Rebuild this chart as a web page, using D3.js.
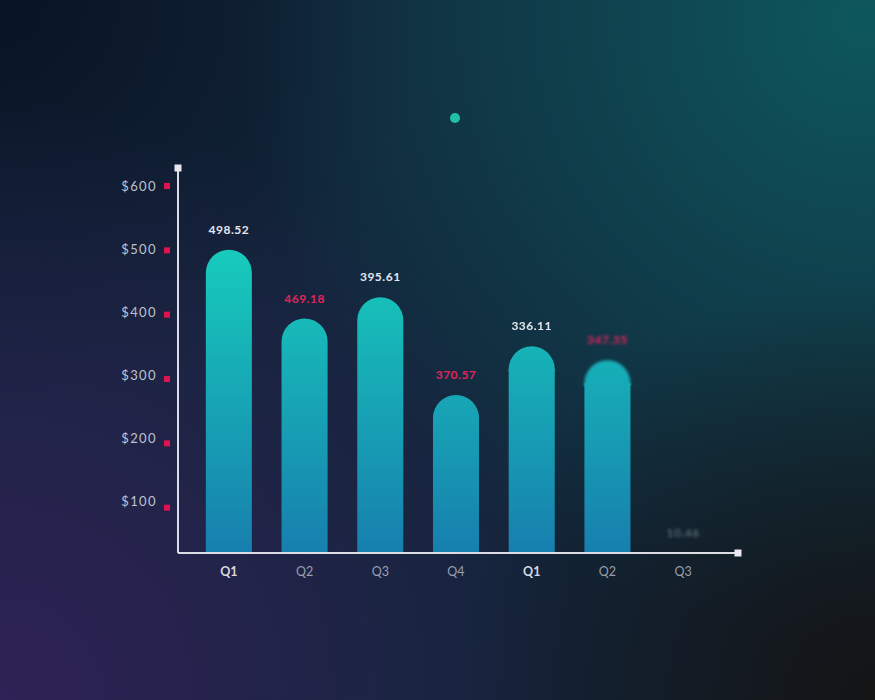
<!DOCTYPE html>
<html><head><meta charset="utf-8">
<script src="https://cdn.jsdelivr.net/npm/d3@7/dist/d3.min.js"></script>
<style>html,body{margin:0;padding:0;background:#0f2233;overflow:hidden}</style>
</head><body>
<svg id="c" width="875" height="700"></svg>
<script>
const categories = ["Q1","Q2","Q3","Q4","Q1","Q2","Q3"];
const barValues = [501, 394, 427, 275, 351, 329, 8];
const labelTexts = ["498.52","469.18","395.61","370.57","336.11","347.35","10.46"];
const labelKinds = ["light","accent","light","accent","light","accent","faded"];
const boldCategory = [true,false,false,false,true,false,false];
const tickValues = [100,200,300,400,500,600];
const topBlur = [0,0,0,0,0.7,1.8,0];
const labelBlur = [0,0,0,0,0.5,1.8,1.6];

const svg = d3.select("#c");
const W = 875, H = 700;
const defs = svg.append("defs");

function radial(id, cx, cy, r, color, op){
  const g = defs.append("radialGradient").attr("id",id).attr("gradientUnits","userSpaceOnUse")
    .attr("cx",cx).attr("cy",cy).attr("r",r);
  g.append("stop").attr("offset","0%").attr("stop-color",color).attr("stop-opacity",op);
  g.append("stop").attr("offset","100%").attr("stop-color",color).attr("stop-opacity",0);
}
radial("bgTeal", 860, 20, 620, "#0d5a5e", 0.95);
radial("bgPurple", 0, 700, 600, "#2f2256", 1);
radial("bgDark", 875, 700, 420, "#141414", 1);
radial("bgTL", 0, 0, 420, "#081222", 0.9);
svg.append("rect").attr("width",W).attr("height",H).attr("fill","#12253a");
["bgTL","bgPurple","bgTeal","bgDark"].forEach(id=>svg.append("rect").attr("width",W).attr("height",H).attr("fill",`url(#${id})`));

const bg = defs.append("linearGradient").attr("id","barGrad").attr("gradientUnits","userSpaceOnUse")
  .attr("x1",0).attr("y1",250).attr("x2",0).attr("y2",553);
bg.append("stop").attr("offset","0%").attr("stop-color","#17cbbc");
bg.append("stop").attr("offset","100%").attr("stop-color","#177fae");

function blurFilter(id, s){
  const f = defs.append("filter").attr("id",id).attr("x","-30%").attr("y","-60%").attr("width","160%").attr("height","220%");
  f.append("feGaussianBlur").attr("stdDeviation",s);
}

const axisX0 = 178, axisX1 = 738, axisTop = 168, baseY = 553;
const y = d3.scaleLinear().domain([0,600]).range([572,186]);
const x = d3.scaleBand().domain(d3.range(categories.length)).range([191,721]).paddingInner(0.392).paddingOuter(0.196);

svg.append("circle").attr("cx",455).attr("cy",118).attr("r",5).attr("fill","#1fc2a3");

const bw = x.bandwidth(), r = bw/2;
const bars = svg.append("g");
function barPath(x0, top){
  const x1 = x0 + bw;
  const p = d3.path();
  p.moveTo(x0, baseY);
  p.lineTo(x0, top + r);
  p.arc(x0 + r, top + r, r, Math.PI, 0);
  p.lineTo(x1, baseY);
  p.closePath();
  return p.toString();
}
barValues.forEach((v,i)=>{
  const top = y(v);
  if (top >= baseY) return;
  const x0 = x(i);
  const d = barPath(x0, top);
  if (topBlur[i] > 0) {
    blurFilter("tb"+i, topBlur[i]);
    const split = Math.round(top + r);
    defs.append("clipPath").attr("id","cTop"+i).append("rect")
      .attr("x", x0 - 20).attr("y", top - 20).attr("width", bw + 40).attr("height", split + 3 - (top - 20));
    defs.append("clipPath").attr("id","cBot"+i).append("rect")
      .attr("x", x0 - 5).attr("y", split).attr("width", bw + 10).attr("height", baseY - split);
    bars.append("g").attr("clip-path", `url(#cBot${i})`)
      .append("path").attr("d", d).attr("fill","url(#barGrad)");
    bars.append("g").attr("clip-path", `url(#cTop${i})`)
      .append("path").attr("d", d).attr("fill","url(#barGrad)").attr("filter",`url(#tb${i})`);
  } else {
    bars.append("path").attr("d", d).attr("fill","url(#barGrad)");
  }
});

const labelColor = {light:"#e4e6ee", accent:"#e3245c", faded:"#55656f"};
labelTexts.forEach((t,i)=>{
  const top = Math.min(y(barValues[i]), baseY);
  let filt = null;
  if (labelBlur[i] > 0) { blurFilter("lb"+i, labelBlur[i]); filt = `url(#lb${i})`; }
  svg.append("text").attr("x", x(i)+bw/2).attr("y", top - 16)
    .attr("text-anchor","middle").attr("font-family","Lato, 'Open Sans', sans-serif")
    .attr("font-weight",700).attr("font-size",12).attr("letter-spacing",0.5)
    .attr("fill", labelColor[labelKinds[i]])
    .attr("filter", filt)
    .text(t);
});

const axisColor = "#dcdce4";
svg.append("line").attr("x1",axisX0).attr("y1",axisTop).attr("x2",axisX0).attr("y2",baseY).attr("stroke",axisColor).attr("stroke-width",2);
svg.append("line").attr("x1",axisX0).attr("y1",baseY).attr("x2",axisX1).attr("y2",baseY).attr("stroke",axisColor).attr("stroke-width",2);
svg.append("rect").attr("x",axisX0-3.5).attr("y",axisTop-3.5).attr("width",7).attr("height",7).attr("fill","#e8e8ee");
svg.append("rect").attr("x",axisX1-3.5).attr("y",baseY-3.5).attr("width",7).attr("height",7).attr("fill","#e8e8ee");

const fmt = d => "$" + d;
tickValues.forEach(v=>{
  const ty = y(v);
  svg.append("rect").attr("x",164).attr("y",ty-3).attr("width",6).attr("height",6).attr("fill","#e0124f");
  svg.append("text").attr("x",157).attr("y", ty - (600-v)/100*1.3 + 4.5)
    .attr("text-anchor","end").attr("font-family","Lato, 'Open Sans', sans-serif")
    .attr("font-size",13).attr("letter-spacing",1.4).attr("fill","#bfc2d0").text(fmt(v));
});

categories.forEach((c,i)=>{
  svg.append("text").attr("x", x(i)+bw/2).attr("y", 576)
    .attr("text-anchor","middle").attr("font-family","Lato, 'Open Sans', sans-serif")
    .attr("font-size",12.5).attr("font-weight", boldCategory[i]?700:400)
    .attr("fill", boldCategory[i] ? "#d6d8e2" : "#9a9fb0").text(c);
});
</script>
</body></html>
